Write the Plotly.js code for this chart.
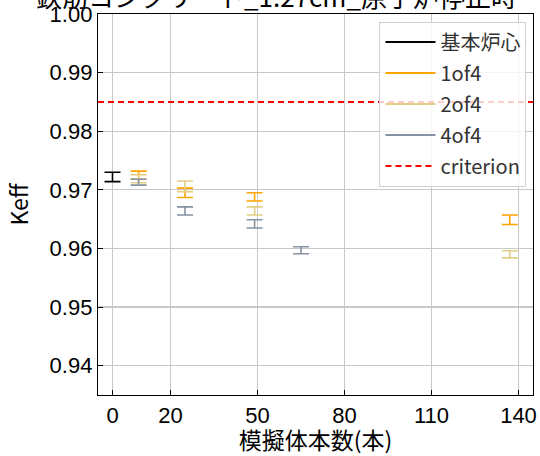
<!DOCTYPE html>
<html>
<head>
<meta charset="utf-8">
<script src="https://cdn.plot.ly/plotly-3.0.1.min.js"></script>
<style>html,body{margin:0;padding:0;background:#fff;}#chart{width:540px;height:456px;}</style>
</head>
<body>
<div id="chart"></div>
<script>
// ---- data ----
const titleText = "鉄筋コンクリート_1.27cm_原子炉停止時";
const xTickVals = [0, 20, 50, 80, 110, 140];
const xRange = [-5, 145];
const yRange = [0.935, 1.0];
const yTickVals = [0.94, 0.95, 0.96, 0.97, 0.98, 0.99, 1.00];
const criterion = 0.985;

const baseX = [0];
const baseY = [0.9722];
const baseErr = [0.0008];

const of1X = [9, 25, 49, 137];
const of1Y = [0.9725, 0.9695, 0.9688, 0.9649];
const of1Err = [0.0007, 0.0008, 0.0007, 0.0008];

const of2X = [9, 25, 49, 137];
const of2Y = [0.9719, 0.9706, 0.9664, 0.9590];
const of2Err = [0.0007, 0.0009, 0.0007, 0.0006];

const of4X = [9, 25, 49, 65];
const of4Y = [0.9713, 0.9664, 0.9642, 0.9597];
const of4Err = [0.0005, 0.0007, 0.0007, 0.0006];

const seriesNames = ["基本炉心", "1of4", "2of4", "4of4"];
const colors = ["#000000", "#FFA500", "#E2CF84", "#8593A2"];
const criterionColor = "#FF0000";

// ---- build ----
const jp = "Noto Sans CJK JP, sans-serif";
const num = "Liberation Sans, Arial, sans-serif";
const sets = [[baseX, baseY, baseErr], [of1X, of1Y, of1Err], [of2X, of2Y, of2Err], [of4X, of4Y, of4Err]];
const traces = [];
sets.forEach((s, i) => {
  traces.push({
    type: "scatter", mode: "markers", x: s[0], y: s[1],
    marker: {size: 1, opacity: 0, color: colors[i]},
    error_y: {type: "data", array: s[2], visible: true, color: colors[i], thickness: 1.6, width: 8},
    showlegend: false, hoverinfo: "skip"
  });
});
sets.forEach((s, i) => {
  traces.push({
    type: "scatter", mode: "lines", x: [null], y: [null], name: seriesNames[i],
    line: {color: colors[i], width: 2}, legendgroup: "g" + i
  });
});
traces.push({
  type: "scatter", mode: "lines", x: xRange, y: [criterion, criterion], name: "criterion",
  line: {color: criterionColor, width: 2, dash: "6px,4px"}, legendgroup: "gc", hoverinfo: "skip"
});

const layout = {
  width: 540, height: 456,
  margin: {l: 98, r: 7, t: 14, b: 61},
  paper_bgcolor: "#fff", plot_bgcolor: "#fff",
  title: {text: titleText, font: {family: jp, size: 26, color: "#000"},
          xref: "container", x: 36/540, xanchor: "left", yref: "container", y: 1 - 7/456, yanchor: "bottom"},
  xaxis: {range: xRange, tickvals: xTickVals, ticktext: xTickVals.map(String),
          ticks: "inside", ticklen: 5, tickcolor: "#000", showline: true, linecolor: "#000", linewidth: 1.2, mirror: true,
          showgrid: true, gridcolor: "#c8c8c8", gridwidth: 1.2, zeroline: false,
          tickfont: {family: num, size: 22, color: "#000"},
          title: {text: "模擬体本数(本)", font: {family: jp, size: 23, color: "#000"}, standoff: 7}},
  yaxis: {range: yRange, tickvals: yTickVals, ticktext: yTickVals.map(v => v.toFixed(2)),
          ticks: "inside", ticklen: 5, tickcolor: "#000", showline: true, linecolor: "#000", linewidth: 1.2, mirror: true,
          showgrid: true, gridcolor: "#c8c8c8", gridwidth: 1.2, zeroline: false,
          tickfont: {family: num, size: 22, color: "#000"},
          title: {text: "Keff", font: {family: jp, size: 23, color: "#000"}, standoff: 14}},
  legend: {x: 0.985, xanchor: "right", y: 0.98, yanchor: "top",
           bgcolor: "rgba(255,255,255,0.8)", bordercolor: "#d0d0d0", borderwidth: 1,
           font: {family: jp, size: 20, color: "#333"}, tracegroupgap: 2, traceorder: "grouped",
           itemwidth: 50},
  showlegend: true
};
Plotly.newPlot("chart", traces, layout, {displayModeBar: false, staticPlot: true});
</script>
</body>
</html>
